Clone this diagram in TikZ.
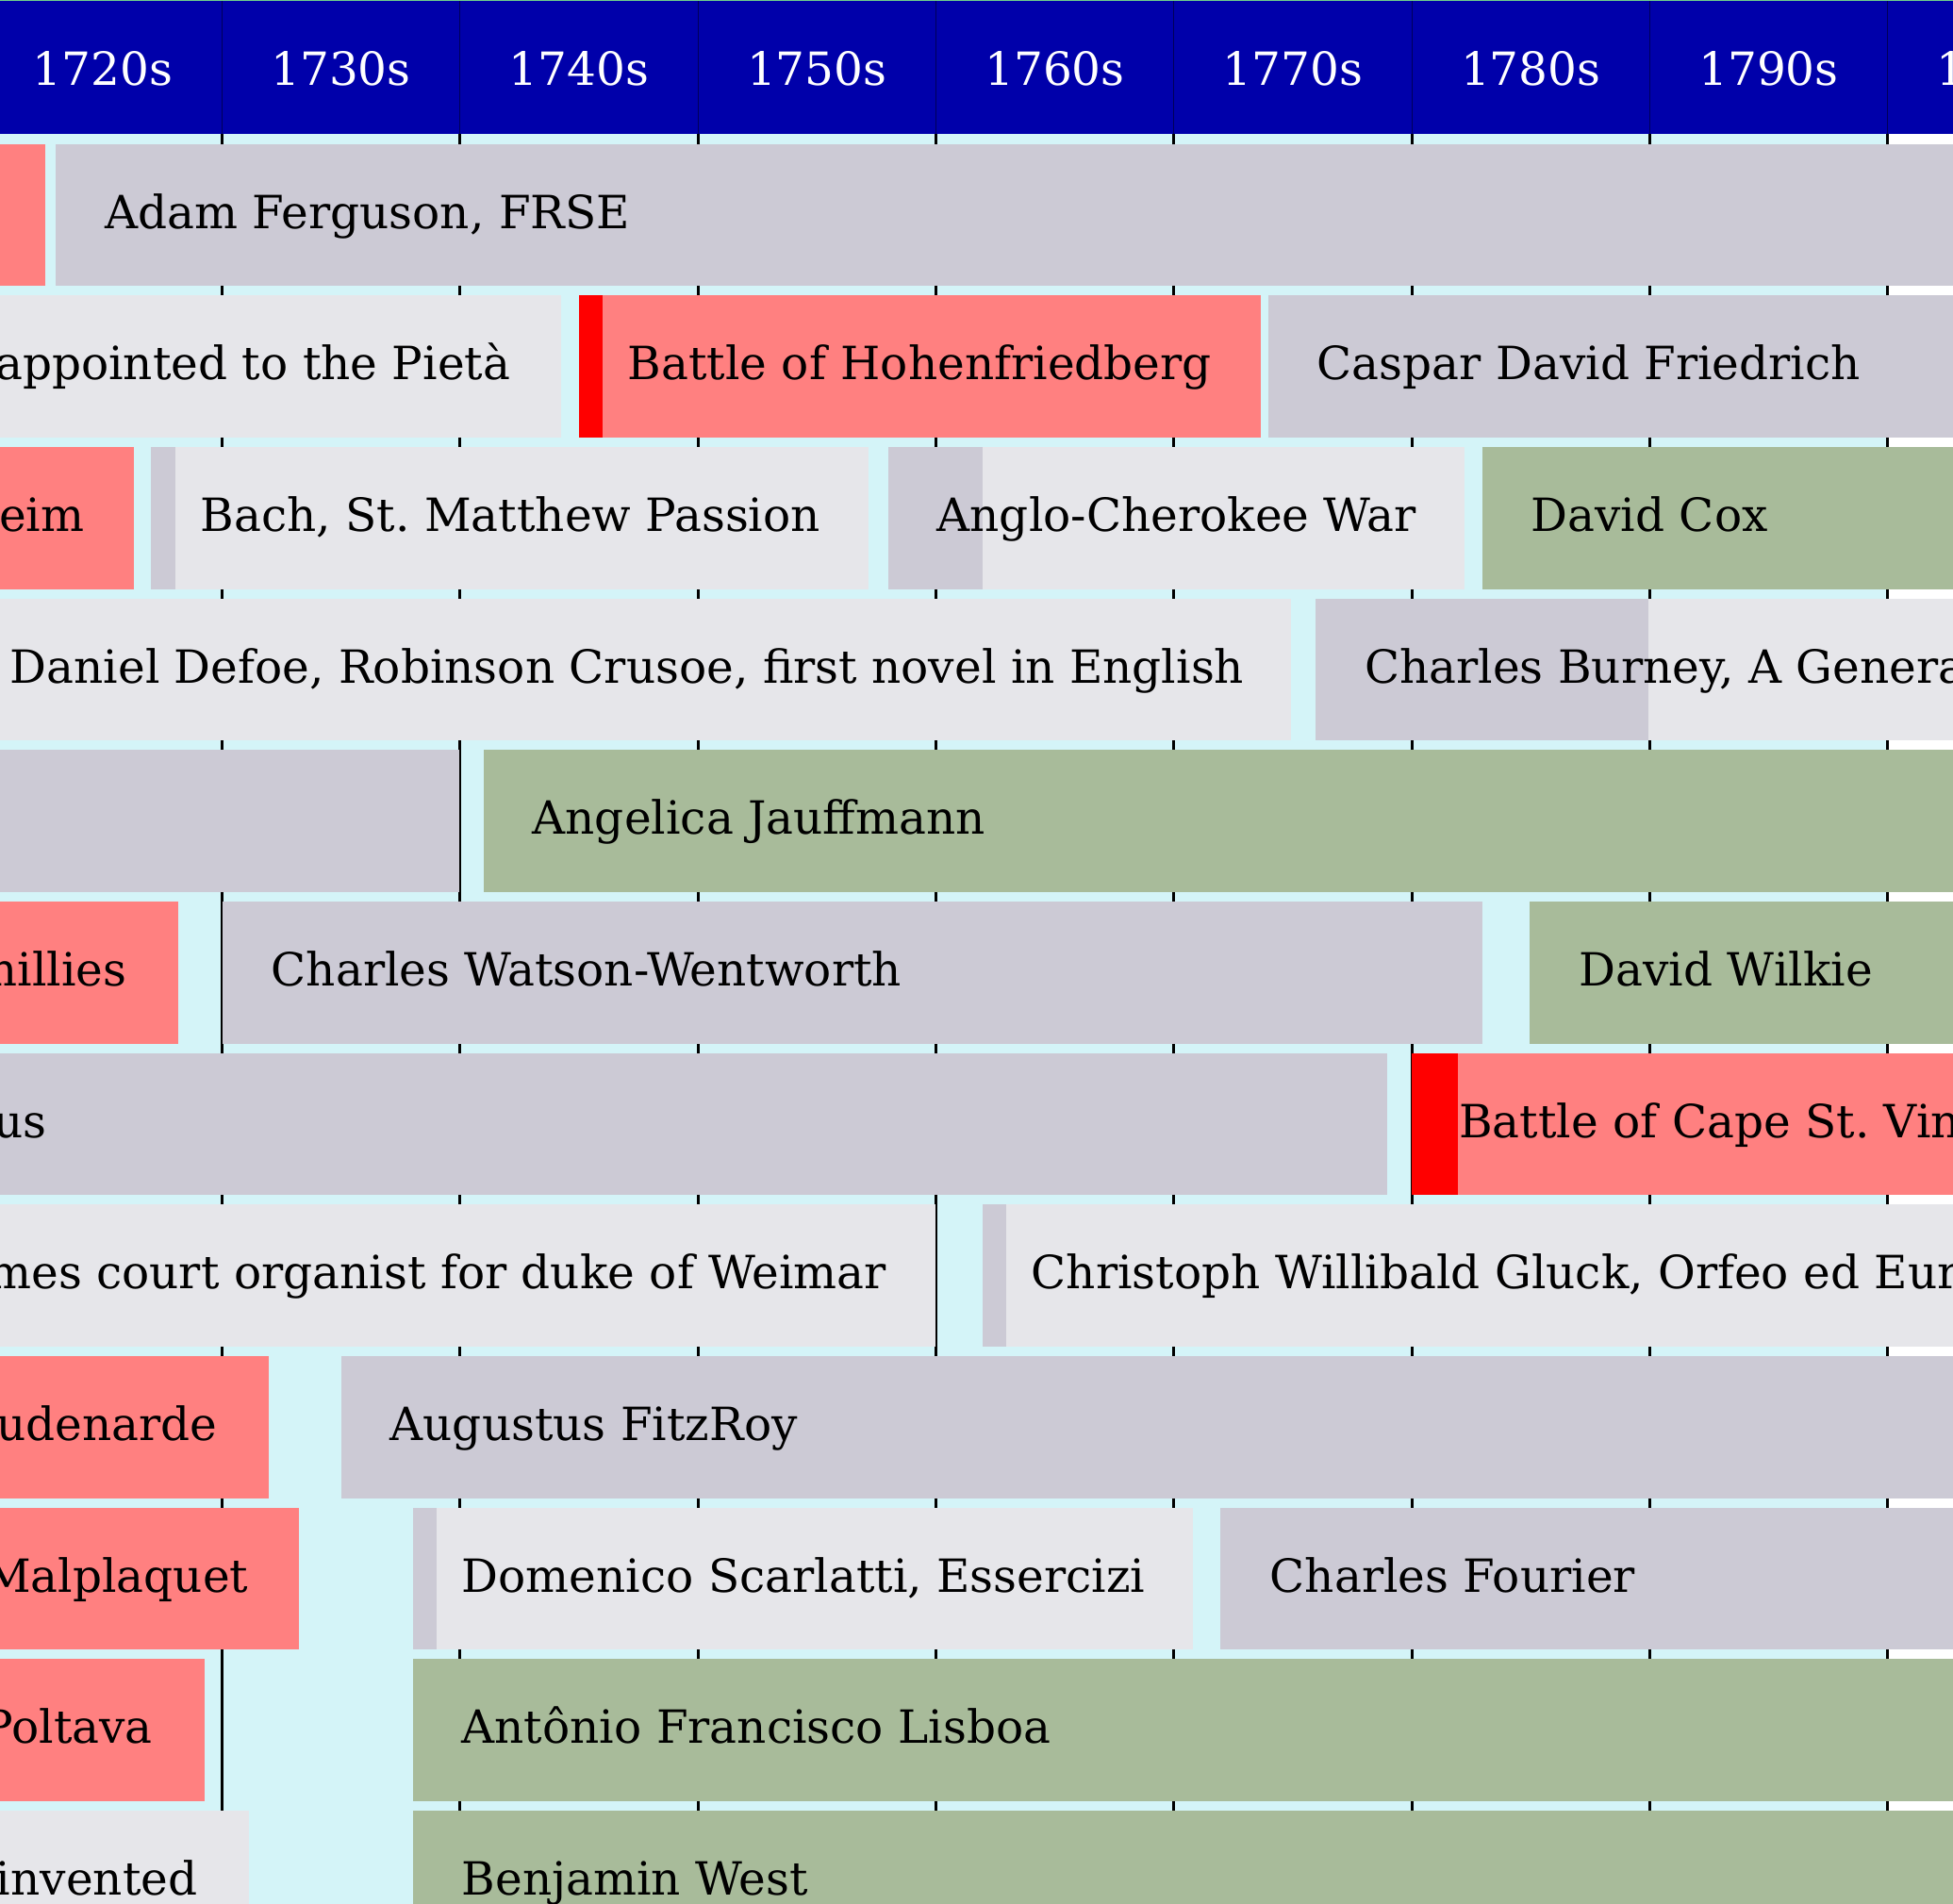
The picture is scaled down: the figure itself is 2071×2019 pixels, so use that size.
\documentclass[tikz,border=0pt]{standalone}
\usepackage{fontspec}
\setmainfont{DejaVu Serif}
\frenchspacing

\definecolor{headblue}{RGB}{0,0,170}
\definecolor{headline}{RGB}{0,0,90}
\definecolor{topline}{RGB}{110,206,140}
\definecolor{sky}{RGB}{212,244,248}
\definecolor{warcol}{RGB}{255,128,128}
\definecolor{warmark}{RGB}{255,0,0}
\definecolor{personcol}{RGB}{204,202,213}
\definecolor{workcol}{RGB}{230,230,234}
\definecolor{artistcol}{RGB}{168,187,154}

\tikzset{
	lbl/.style={anchor=base west, inner sep=0pt, font=\fontsize{13.8pt}{17pt}\selectfont},
	lblcut/.style={lbl, anchor=base east},
	decade/.style={anchor=base, inner sep=0pt, text=white, font=\fontsize{13.8pt}{17pt}\selectfont},
	grid/.style={line width=0.85pt, black},
	headgrid/.style={line width=0.3pt, headline},
}

\begin{document}
\begin{tikzpicture}[x=0.01cm, y=-0.01cm]
	\useasboundingbox (0,0) rectangle (2071,2019) ;
	\clip (0,0) rectangle (2071,2019) ;

	\fill[white] (0,0) rectangle (2071,2019) ;
	\fill[sky] (0,142) rectangle (2001.7,2019) ;
	\fill[headblue] (0,1) rectangle (2071,142) ;
	\draw[topline, line width=0.3pt] (0,0.5) -- (2071,0.5) ;

	\draw[headgrid] (235.4,1) -- (235.4,142) ;
	\draw[headgrid] (487.7,1) -- (487.7,142) ;
	\draw[headgrid] (740.1,1) -- (740.1,142) ;
	\draw[headgrid] (992.4,1) -- (992.4,142) ;
	\draw[headgrid] (1244.7,1) -- (1244.7,142) ;
	\draw[headgrid] (1497.1,1) -- (1497.1,142) ;
	\draw[headgrid] (1749.4,1) -- (1749.4,142) ;
	\draw[headgrid] (2001.7,1) -- (2001.7,142) ;

	\draw[grid] (235.4,142) -- (235.4,2019) ;
	\draw[grid] (487.7,142) -- (487.7,2019) ;
	\draw[grid] (740.1,142) -- (740.1,2019) ;
	\draw[grid] (992.4,142) -- (992.4,2019) ;
	\draw[grid] (1244.7,142) -- (1244.7,2019) ;
	\draw[grid] (1497.1,142) -- (1497.1,2019) ;
	\draw[grid] (1749.4,142) -- (1749.4,2019) ;
	\draw[grid] (2001.7,142) -- (2001.7,2019) ;

	\node[decade] (d1720) at (109.2,90.7) {1720s} ;
	\node[decade] (d1730) at (361.6,90.7) {1730s} ;
	\node[decade] (d1740) at (613.9,90.7) {1740s} ;
	\node[decade] (d1750) at (866.2,90.7) {1750s} ;
	\node[decade] (d1760) at (1118.6,90.7) {1760s} ;
	\node[decade] (d1770) at (1370.9,90.7) {1770s} ;
	\node[decade] (d1780) at (1623.2,90.7) {1780s} ;
	\node[decade] (d1790) at (1875.6,90.7) {1790s} ;
	\node[decade] (d1800) at (2127.9,90.7) {1800s} ;

	\fill[warcol] (-10,152.7) rectangle (48.2,303.4) ;
	\fill[personcol] (59.4,152.7) rectangle (2080,303.4) ;
	\node[lbl] (ferguson) at (110.4,242.2) {Adam Ferguson, FRSE} ;

	\fill[workcol] (-10,313.4) rectangle (595,464.1) ;
	\node[lblcut] (pieta) at (542,402.9) {appointed to the Pietà} ;
	\fill[warmark] (613.8,313.4) rectangle (639.3,464.1) ;
	\fill[warcol] (639.3,313.4) rectangle (1336.7,464.1) ;
	\node[lbl] (hohenfriedberg) at (665,402.9) {Battle of Hohenfriedberg} ;
	\fill[personcol] (1345.2,313.4) rectangle (2080,464.1) ;
	\node[lbl] (friedrich) at (1396,402.9) {Caspar David Friedrich} ;

	\fill[warcol] (-10,474) rectangle (142.4,624.7) ;
	\node[lblcut] (blenheim) at (90,563.5) {eim} ;
	\fill[personcol] (160.3,474) rectangle (185.7,624.7) ;
	\fill[workcol] (185.7,474) rectangle (920.6,624.7) ;
	\node[lbl] (passion) at (212,563.5) {Bach, St. Matthew Passion} ;
	\fill[personcol] (941.9,474) rectangle (1042.4,624.7) ;
	\fill[workcol] (1042.4,474) rectangle (1553,624.7) ;
	\node[lbl] (cherokee) at (993,563.5) {Anglo-Cherokee War} ;
	\fill[artistcol] (1571.9,474) rectangle (2080,624.7) ;
	\node[lbl] (cox) at (1623,563.5) {David Cox} ;

	\fill[workcol] (-10,634.7) rectangle (1369.3,785.4) ;
	\node[lbl] (crusoe) at (10,724.2) {Daniel Defoe, Robinson Crusoe, first novel in English} ;
	\fill[personcol] (1395.4,634.7) rectangle (1748,785.4) ;
	\fill[workcol] (1748,634.7) rectangle (2080,785.4) ;
	\node[lbl] (burney) at (1446.5,724.2) {Charles Burney, A Genera} ;

	\fill[personcol] (-10,795.4) rectangle (486.6,946.1) ;
	\fill[artistcol] (513.4,795.4) rectangle (2080,946.1) ;
	\node[lbl] (angelica) at (564,884.9) {Angelica Jauffmann} ;

	\fill[warcol] (-10,956) rectangle (188.8,1106.7) ;
	\node[lblcut] (ramillies) at (135,1045.5) {millies} ;
	\fill[personcol] (235.7,956) rectangle (1571.9,1106.7) ;
	\node[lbl] (wentworth) at (287,1045.5) {Charles Watson-Wentworth} ;
	\fill[artistcol] (1622,956) rectangle (2080,1106.7) ;
	\node[lbl] (wilkie) at (1674,1045.5) {David Wilkie} ;

	\fill[personcol] (-10,1116.7) rectangle (1470.6,1267.4) ;
	\node[lblcut] (linnaeus) at (50.5,1206.2) {us} ;
	\fill[warmark] (1497.1,1116.7) rectangle (1546.3,1267.4) ;
	\fill[warcol] (1546.3,1116.7) rectangle (2080,1267.4) ;
	\node[lbl] (vincent) at (1546.5,1206.2) {Battle of Cape St. Vin} ;

	\fill[workcol] (-10,1277.4) rectangle (992,1428.1) ;
	\node[lblcut] (weimar) at (940.5,1366.9) {mes court organist for duke of Weimar} ;
	\fill[personcol] (1042,1277.4) rectangle (1067,1428.1) ;
	\fill[workcol] (1067,1277.4) rectangle (2080,1428.1) ;
	\node[lbl] (gluck) at (1093,1366.9) {Christoph Willibald Gluck, Orfeo ed Eur} ;

	\fill[warcol] (-10,1438.1) rectangle (284.8,1588.8) ;
	\node[lblcut] (oudenarde) at (231,1527.6) {udenarde} ;
	\fill[personcol] (362,1438.1) rectangle (2080,1588.8) ;
	\node[lbl] (fitzroy) at (413,1527.6) {Augustus FitzRoy} ;

	\fill[warcol] (-10,1598.7) rectangle (316.5,1749.4) ;
	\node[lblcut] (malplaquet) at (264,1688.2) {Malplaquet} ;
	\fill[personcol] (437.5,1598.7) rectangle (463,1749.4) ;
	\fill[workcol] (463,1598.7) rectangle (1265.3,1749.4) ;
	\node[lbl] (scarlatti) at (489,1688.2) {Domenico Scarlatti, Essercizi} ;
	\fill[personcol] (1294.4,1598.7) rectangle (2080,1749.4) ;
	\node[lbl] (fourier) at (1346,1688.2) {Charles Fourier} ;

	\fill[warcol] (-10,1759.4) rectangle (216.5,1910.1) ;
	\node[lblcut] (poltava) at (162.5,1848.9) {Poltava} ;
	\fill[artistcol] (437.5,1759.4) rectangle (2080,1910.1) ;
	\node[lbl] (lisboa) at (489,1848.9) {Antônio Francisco Lisboa} ;

	\fill[workcol] (-10,1920.1) rectangle (263.8,2070.8) ;
	\node[lblcut] (invented) at (210,2009.6) {invented} ;
	\fill[artistcol] (437.5,1920.1) rectangle (2080,2070.8) ;
	\node[lbl] (west) at (489,2009.6) {Benjamin West} ;

\end{tikzpicture}
\end{document}
